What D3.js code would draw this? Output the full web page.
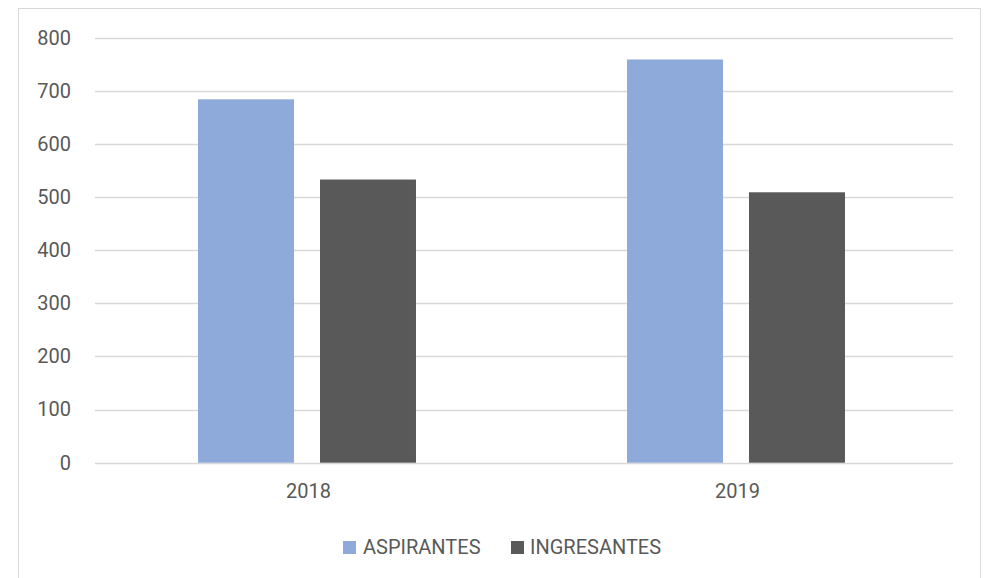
<!DOCTYPE html>
<html>
<head>
<meta charset="utf-8">
<script src="https://cdn.jsdelivr.net/npm/d3@7"></script>
<style>
  html, body { margin: 0; padding: 0; background: #fff; }
  svg { display: block; }
  text { font-family: Roboto, "Noto Sans", sans-serif; fill: #595959; }
</style>
</head>
<body>
<svg id="chart" width="989" height="578"></svg>
<script>
const categories = ["2018", "2019"];
const seriesNames = ["ASPIRANTES", "INGRESANTES"];
const aspirantes = [684, 759];
const ingresantes = [533, 509];
const yTicks = [0, 100, 200, 300, 400, 500, 600, 700, 800];
const colors = ["#8eaadb", "#595959"];

const seriesValues = [aspirantes, ingresantes];
const svg = d3.select("#chart");

// outer border
svg.append("rect")
  .attr("x", 18.5).attr("y", 8.5)
  .attr("width", 962).attr("height", 600)
  .attr("fill", "none").attr("stroke", "#d9d9d9").attr("stroke-width", 1);

const plot = { left: 95, right: 953, top: 37.7, bottom: 462.7 };

const x0 = d3.scaleBand().domain(categories).range([plot.left, plot.right]).padding(0);
const x1 = d3.scaleBand().domain(seriesNames).range([0, x0.bandwidth()])
  .paddingInner(0.213).paddingOuter(0.865);
const y = d3.scaleLinear().domain([0, 800]).range([plot.bottom, plot.top]);

// gridlines
svg.append("g")
  .selectAll("line").data(yTicks).join("line")
  .attr("x1", plot.left).attr("x2", plot.right)
  .attr("y1", d => Math.round(y(d)) + 0.5).attr("y2", d => Math.round(y(d)) + 0.5)
  .attr("stroke", "#d9d9d9").attr("stroke-width", 1.3);

// y axis labels
const yAxis = d3.axisLeft(y).tickValues(yTicks).tickSize(0).tickPadding(0);
const gy = svg.append("g").attr("transform", "translate(71,0)").call(yAxis);
gy.select(".domain").remove();
gy.selectAll("text").attr("font-size", 20).attr("fill", "#595959")
  .style("font-family", "Roboto, sans-serif");

// bars
const data = [];
categories.forEach((c, i) => seriesNames.forEach((s, j) => data.push({ c, s, v: seriesValues[j][i], j })));
svg.append("g").attr("transform", "translate(-2.5,0)")
  .selectAll("rect").data(data).join("rect")
  .attr("x", d => x0(d.c) + x1(d.s))
  .attr("width", x1.bandwidth())
  .attr("y", d => y(d.v))
  .attr("height", d => y(0) - y(d.v))
  .attr("fill", d => colors[d.j]);

// x axis labels
const xAxis = d3.axisBottom(x0).tickSize(0).tickPadding(0);
const gx = svg.append("g").attr("transform", "translate(-1,484)").call(xAxis);
gx.select(".domain").remove();
gx.selectAll("text").attr("font-size", 20).attr("fill", "#595959")
  .style("font-family", "Roboto, sans-serif");

// legend
const legendItems = [
  { name: seriesNames[0], sx: 343, tx: 363 },
  { name: seriesNames[1], sx: 511, tx: 530 }
];
const lg = svg.append("g");
legendItems.forEach((it, i) => {
  lg.append("rect").attr("x", it.sx).attr("y", 541).attr("width", 13).attr("height", 13)
    .attr("fill", colors[i]);
  lg.append("text").attr("x", it.tx).attr("y", 554).attr("font-size", 20)
    .text(it.name);
});
</script>
</body>
</html>
